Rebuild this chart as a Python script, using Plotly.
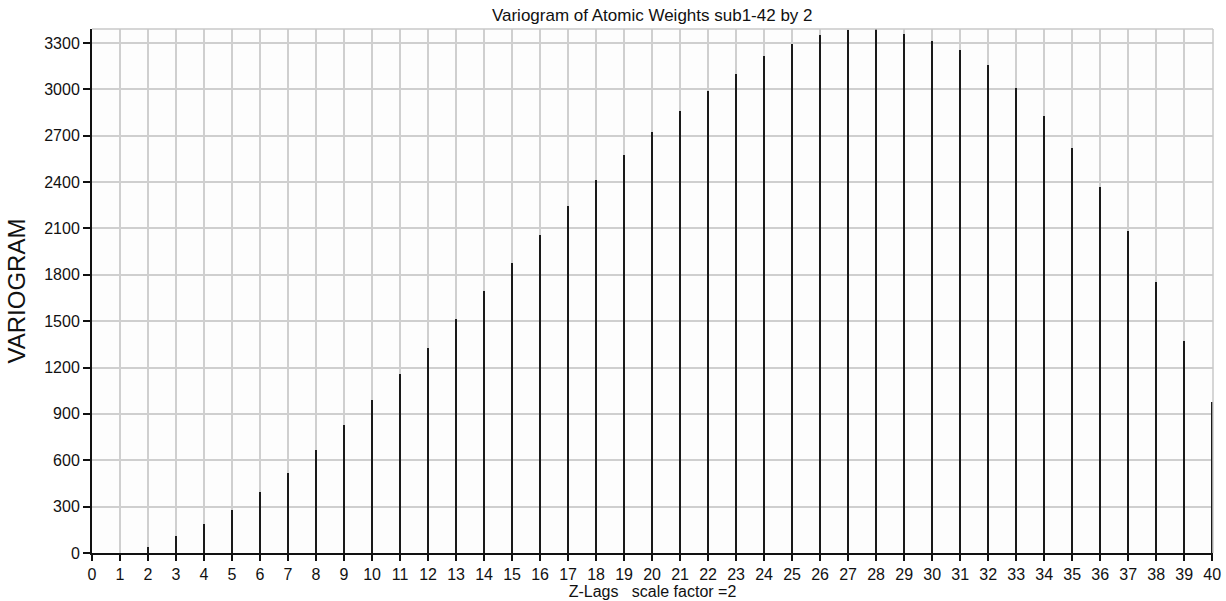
import plotly.graph_objects as go

lags = list(range(1, 41))
variogram = [0, 39, 108, 190, 281, 392, 518, 665, 825, 987,
             1158, 1328, 1512, 1693, 1877, 2060, 2244, 2413, 2575, 2721,
             2861, 2987, 3099, 3213, 3294, 3352, 3384, 3388, 3360, 3313,
             3257, 3155, 3006, 2825, 2620, 2367, 2080, 1752, 1373, 976]
x_ticks = list(range(0, 41))
y_ticks = list(range(0, 3301, 300))

title_text = "Variogram of Atomic Weights sub1-42 by 2"
x_title = "Z-Lags\u00a0\u00a0\u00a0scale factor =2"
y_title = "VARIOGRAM"

FONT = "Liberation Sans, Arial, sans-serif"

fig = go.Figure()
fig.add_trace(go.Bar(
    x=lags, y=variogram, width=0.06,
    marker=dict(color="#1a1a1a", line=dict(width=0)),
    showlegend=False,
))

fig.update_layout(
    width=1226, height=601,
    margin=dict(l=92, r=13, t=29, b=48),
    paper_bgcolor="white",
    plot_bgcolor="#fdfdfd",
    font=dict(family=FONT, color="#111111", size=16),
    title=dict(text=title_text, x=0.532, xanchor="center", y=0.975, yanchor="middle",
               font=dict(family=FONT, size=17, color="#111111")),
    bargap=0,
    shapes=[
        dict(type="line", xref="paper", yref="paper", x0=0, x1=1, y0=1, y1=1,
             line=dict(color="#c8c8c8", width=1.5)),
        dict(type="line", xref="paper", yref="paper", x0=1, x1=1, y0=0, y1=1,
             line=dict(color="#c8c8c8", width=1.5)),
    ],
)

fig.update_xaxes(
    range=[0, 40.03], tickmode="array", tickvals=x_ticks, ticktext=[str(t) for t in x_ticks],
    showgrid=True, gridcolor="#cfcfcf", gridwidth=1.5,
    showline=True, linecolor="#111111", linewidth=2,
    ticks="outside", ticklen=6, tickwidth=1.5, tickcolor="#111111",
    tickfont=dict(family=FONT, size=16),
    zeroline=False, automargin=False,
    title=dict(text=x_title, standoff=0, font=dict(family=FONT, size=16)),
)
fig.update_yaxes(
    range=[0, 3390], tickmode="array", tickvals=y_ticks, ticktext=[str(t) for t in y_ticks],
    showgrid=True, gridcolor="#cfcfcf", gridwidth=1.5,
    showline=True, linecolor="#111111", linewidth=2,
    ticks="outside", ticklen=7, tickwidth=1.5, tickcolor="#111111",
    tickfont=dict(family=FONT, size=16),
    zeroline=False, automargin=False,
    title=dict(text=y_title, standoff=12, font=dict(family=FONT, size=24)),
)

fig.write_html(
    "out.html",
    config={"displayModeBar": False},
    post_script="document.body.style.margin='0px';document.body.style.overflow='hidden';",
)
